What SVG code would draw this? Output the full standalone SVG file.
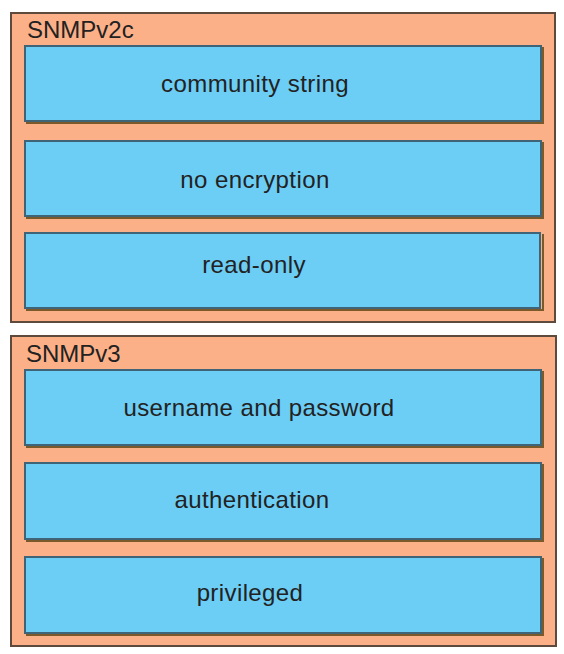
<svg xmlns="http://www.w3.org/2000/svg" width="564" height="654" viewBox="0 0 564 654">
<style>
.outer{fill:#FCB088;stroke:#5E4A3C;stroke-width:2}
.inner{fill:#6CCDF5;stroke:#3F6478;stroke-width:2}
.shadow{fill:none;stroke:#7A5A2A;stroke-width:2}
.title{font-family:"Liberation Sans",Arial,sans-serif;font-size:24px;fill:#222}
.label{font-family:"Liberation Sans",Arial,sans-serif;font-size:24px;letter-spacing:0.4px;fill:#222;text-anchor:middle}
</style>
<rect width="564" height="654" fill="#fff"/>
<g id="snmpv2c">
<rect class="outer" x="11" y="13" width="544" height="309"/>
<text class="title" x="27" y="38">SNMPv2c</text>
</g>
<g id="community-string">
<polyline class="shadow" points="26,123 543,123 543,47"/>
<rect class="inner" x="25" y="46" width="516" height="75"/>
<text class="label" x="255" y="92">community string</text>
</g>
<g id="no-encryption">
<polyline class="shadow" points="26,218 543,218 543,142"/>
<rect class="inner" x="25" y="141" width="516" height="75"/>
<text class="label" x="255" y="188">no encryption</text>
</g>
<g id="read-only">
<polyline class="shadow" points="26,310 543,310 543,234"/>
<rect class="inner" x="25" y="233" width="515" height="75"/>
<text class="label" x="254" y="273">read-only</text>
</g>
<g id="snmpv3">
<rect class="outer" x="11" y="336" width="545" height="310"/>
<text class="title" x="26" y="362">SNMPv3</text>
</g>
<g id="username-and-password">
<polyline class="shadow" points="26,447 543,447 543,371"/>
<rect class="inner" x="25" y="370" width="516" height="75"/>
<text class="label" x="259" y="416">username and password</text>
</g>
<g id="authentication">
<polyline class="shadow" points="26,541 543,541 543,464"/>
<rect class="inner" x="25" y="463" width="516" height="76"/>
<text class="label" x="252" y="508">authentication</text>
</g>
<g id="privileged">
<polyline class="shadow" points="26,635 543,635 543,558"/>
<rect class="inner" x="25" y="557" width="516" height="76"/>
<text class="label" x="250" y="601">privileged</text>
</g>
<g id="connectors"></g>
</svg>
